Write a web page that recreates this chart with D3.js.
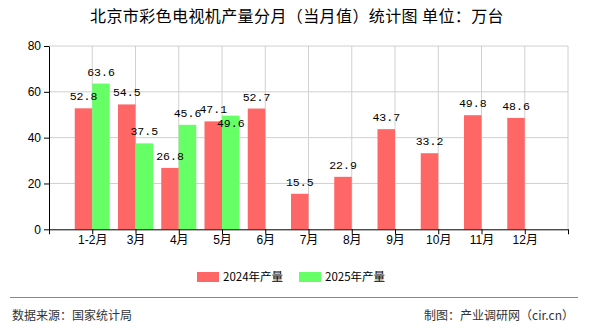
<!DOCTYPE html>
<html><head><meta charset="utf-8">
<script src="https://cdn.jsdelivr.net/npm/d3@7/dist/d3.min.js"></script>
<style>body{margin:0;background:#fff}svg{display:block}</style>
</head><body>
<script>
const categories = ["1-2月","3月","4月","5月","6月","7月","8月","9月","10月","11月","12月"];
const values2024 = [52.8,54.5,26.8,47.1,52.7,15.5,22.9,43.7,33.2,49.8,48.6];
const values2025 = [63.6,37.5,45.6,49.6];
const seriesNames = ["2024年产量","2025年产量"];
const yTicks = [0,20,40,60,80];
const title = "北京市彩色电视机产量分月（当月值）统计图 单位：万台";
const source = "数据来源：国家统计局";
const credit = "制图：产业调研网（cir.cn）";

const W=590,H=330;
const colors=["#ff6666","#66ff66"];
const svg=d3.select("body").append("svg").attr("width",W).attr("height",H);
svg.append("rect").attr("width",W).attr("height",H).attr("fill","#fff");

const domain=["__start",...categories,"__end"];
const x=d3.scalePoint().domain(domain).range([49,568]).padding(0);
const y=d3.scaleLinear().domain([0,80]).range([229.3,46]);
const bw=17.5;

// grid
const g=svg.append("g");
g.selectAll("line.h").data(yTicks.filter(d=>d>0)).join("line")
 .attr("x1",49).attr("x2",568).attr("y1",d=>y(d)).attr("y2",d=>y(d))
 .attr("stroke","#d0d0d0").attr("stroke-width",1);
g.selectAll("line.v").data(domain.slice(1)).join("line")
 .attr("x1",d=>x(d)).attr("x2",d=>x(d)).attr("y1",y(80)).attr("y2",y(0))
 .attr("stroke","#d0d0d0").attr("stroke-width",1);

// bars
svg.append("g").selectAll("rect").data(values2024).join("rect")
 .attr("x",(d,i)=>x(categories[i])-bw).attr("width",bw)
 .attr("y",d=>y(d)).attr("height",d=>y(0)-y(d)).attr("fill",colors[0]);
svg.append("g").selectAll("rect").data(values2025).join("rect")
 .attr("x",(d,i)=>x(categories[i])).attr("width",bw)
 .attr("y",d=>y(d)).attr("height",d=>y(0)-y(d)).attr("fill",colors[1]);

// axes
const yAxis=d3.axisLeft(y).tickValues(yTicks).tickSize(5).tickSizeOuter(0).tickFormat(d3.format("d"));
const ya=svg.append("g").attr("transform","translate(49,0)").call(yAxis);
ya.select(".domain").attr("stroke","#000");
ya.selectAll(".tick line").attr("stroke","#000");
ya.selectAll("text").attr("font-family","Liberation Sans, Arial, sans-serif").attr("font-size",12).attr("fill","#000").attr("x",-8);

const xAxis=d3.axisBottom(x).tickSize(5).tickSizeOuter(0).tickFormat(d=>d.startsWith("__")?"":d);
const xa=svg.append("g").attr("transform",`translate(0,${y(0)})`).call(xAxis);
xa.select(".domain").attr("stroke","#000");
xa.selectAll(".tick line").attr("stroke","#000");
xa.selectAll("text").attr("font-family","Liberation Sans, 'Noto Sans CJK SC', sans-serif").attr("font-size",12).attr("fill","#000").attr("dy","0.9em").attr("y",4);

// labels with simple collision handling
const placed=[];
const labFont="'Liberation Mono','DejaVu Sans Mono',monospace";
const lg=svg.append("g").attr("font-family",labFont).attr("font-size",11.5).attr("fill","#000").attr("text-anchor","middle");
function addLabel(v,cx){
  let by=y(v)-8;
  const w=String(v).length*6.6, h=12;
  const box=(b)=>({x0:cx-w/2+1,x1:cx+w/2-1,y0:b-h+1,y1:b-1});
  let bb=box(by);
  const hit=placed.some(p=>bb.x0<p.x1&&bb.x1>p.x0&&bb.y0<p.y1&&bb.y1>p.y0);
  if(hit){by+=19;bb=box(by);}
  placed.push(bb);
  lg.append("text").attr("x",cx).attr("y",by).text(v.toFixed(1));
}
categories.forEach((c,i)=>{
  if(values2024[i]!=null) addLabel(values2024[i],x(c)-bw/2);
  if(values2025[i]!=null) addLabel(values2025[i],x(c)+bw/2);
});

// title
svg.append("text").attr("x",297).attr("y",22).attr("text-anchor","middle")
 .attr("font-family","'Noto Sans CJK SC',sans-serif").attr("font-size",16).attr("letter-spacing",0.4).attr("fill","#000").text(title);

// legend
const legX=[197,299];
const leg=svg.append("g");
seriesNames.forEach((n,i)=>{
  leg.append("rect").attr("x",legX[i]).attr("y",272).attr("width",22).attr("height",10).attr("fill",colors[i]);
  leg.append("text").attr("x",legX[i]+26).attr("y",281).attr("font-family","'Noto Sans CJK SC',sans-serif").attr("font-size",11.5).attr("fill","#000").text(n);
});

// footer
svg.append("line").attr("x1",10).attr("x2",578).attr("y1",297.5).attr("y2",297.5).attr("stroke","#888").attr("stroke-width",1);
svg.append("text").attr("x",12).attr("y",320).attr("font-family","'Noto Sans CJK SC',sans-serif").attr("font-size",12).attr("fill","#333").text(source);
svg.append("text").attr("x",574).attr("y",320).attr("text-anchor","end").attr("font-family","'Noto Sans CJK SC',sans-serif").attr("font-size",12).attr("fill","#333").text(credit);
</script>
</body></html>
